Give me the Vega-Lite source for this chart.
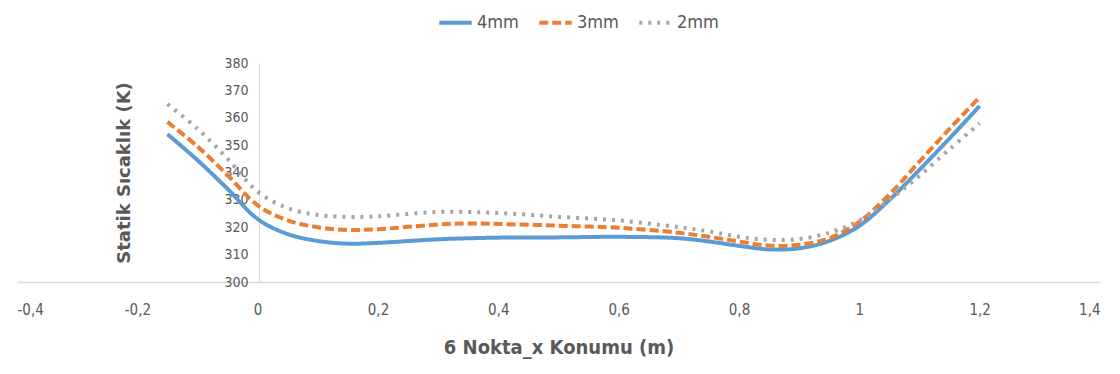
{
  "$schema": "https://vega.github.io/schema/vega-lite/v6.json",
  "width": 1083,
  "height": 219,
  "autosize": "none",
  "padding": {"left": 17, "top": 63, "right": 20, "bottom": 92},
  "background": "white",
  "config": {
    "view": {"stroke": null},
    "font": "Liberation Sans Narrow, DejaVu Sans Condensed, sans-serif"
  },
  "data": {
    "values": [
      {"x": -0.15, "T": 354, "s": "4mm"}, {"x": -0.1, "T": 344.5, "s": "4mm"}, {"x": -0.05, "T": 334, "s": "4mm"}, {"x": 0, "T": 323, "s": "4mm"},
      {"x": 0.05, "T": 317.5, "s": "4mm"}, {"x": 0.1, "T": 315, "s": "4mm"}, {"x": 0.15, "T": 314, "s": "4mm"}, {"x": 0.2, "T": 314.3, "s": "4mm"},
      {"x": 0.3, "T": 315.6, "s": "4mm"}, {"x": 0.4, "T": 316.2, "s": "4mm"}, {"x": 0.5, "T": 316.3, "s": "4mm"}, {"x": 0.6, "T": 316.5, "s": "4mm"},
      {"x": 0.7, "T": 316, "s": "4mm"}, {"x": 0.75, "T": 314.8, "s": "4mm"}, {"x": 0.8, "T": 313.2, "s": "4mm"}, {"x": 0.85, "T": 311.9, "s": "4mm"},
      {"x": 0.9, "T": 312.3, "s": "4mm"}, {"x": 0.95, "T": 315, "s": "4mm"}, {"x": 1.0, "T": 320.5, "s": "4mm"}, {"x": 1.05, "T": 330, "s": "4mm"},
      {"x": 1.1, "T": 341, "s": "4mm"}, {"x": 1.15, "T": 352.5, "s": "4mm"}, {"x": 1.2, "T": 364.3, "s": "4mm"},

      {"x": -0.15, "T": 358.5, "s": "3mm"}, {"x": -0.1, "T": 349.5, "s": "3mm"}, {"x": -0.05, "T": 339, "s": "3mm"}, {"x": 0, "T": 328, "s": "3mm"},
      {"x": 0.05, "T": 322.5, "s": "3mm"}, {"x": 0.1, "T": 320, "s": "3mm"}, {"x": 0.15, "T": 319, "s": "3mm"}, {"x": 0.2, "T": 319.3, "s": "3mm"},
      {"x": 0.3, "T": 321, "s": "3mm"}, {"x": 0.35, "T": 321.4, "s": "3mm"}, {"x": 0.4, "T": 321.2, "s": "3mm"}, {"x": 0.5, "T": 320.6, "s": "3mm"},
      {"x": 0.6, "T": 319.8, "s": "3mm"}, {"x": 0.7, "T": 318, "s": "3mm"}, {"x": 0.75, "T": 316.5, "s": "3mm"}, {"x": 0.8, "T": 314.8, "s": "3mm"},
      {"x": 0.85, "T": 313.3, "s": "3mm"}, {"x": 0.9, "T": 313.6, "s": "3mm"}, {"x": 0.95, "T": 316, "s": "3mm"}, {"x": 1.0, "T": 322, "s": "3mm"},
      {"x": 1.05, "T": 332, "s": "3mm"}, {"x": 1.1, "T": 344, "s": "3mm"}, {"x": 1.15, "T": 356, "s": "3mm"}, {"x": 1.2, "T": 367.5, "s": "3mm"},

      {"x": -0.15, "T": 365, "s": "2mm"}, {"x": -0.1, "T": 356, "s": "2mm"}, {"x": -0.05, "T": 345, "s": "2mm"}, {"x": 0, "T": 333, "s": "2mm"},
      {"x": 0.05, "T": 327, "s": "2mm"}, {"x": 0.1, "T": 324.5, "s": "2mm"}, {"x": 0.15, "T": 323.8, "s": "2mm"}, {"x": 0.2, "T": 324, "s": "2mm"},
      {"x": 0.3, "T": 325.6, "s": "2mm"}, {"x": 0.4, "T": 325.2, "s": "2mm"}, {"x": 0.5, "T": 323.8, "s": "2mm"}, {"x": 0.6, "T": 322.5, "s": "2mm"},
      {"x": 0.7, "T": 320, "s": "2mm"}, {"x": 0.75, "T": 318.5, "s": "2mm"}, {"x": 0.8, "T": 316.5, "s": "2mm"}, {"x": 0.85, "T": 315.4, "s": "2mm"},
      {"x": 0.9, "T": 315.7, "s": "2mm"}, {"x": 0.95, "T": 318, "s": "2mm"}, {"x": 1.0, "T": 322.5, "s": "2mm"}, {"x": 1.05, "T": 330, "s": "2mm"},
      {"x": 1.1, "T": 338.8, "s": "2mm"}, {"x": 1.15, "T": 348.5, "s": "2mm"}, {"x": 1.2, "T": 358, "s": "2mm"}
    ]
  },
  "mark": {"type": "line", "interpolate": "catmull-rom", "strokeWidth": 4, "strokeCap": "butt"},
  "encoding": {
    "x": {
      "field": "x", "type": "quantitative",
      "scale": {"domain": [-0.4, 1.4], "nice": false, "zero": false},
      "axis": {
        "values": [-0.4, -0.2, 0, 0.2, 0.4, 0.6, 0.8, 1, 1.2, 1.4],
        "labelExpr": "replace(replace(format(datum.value, '.1~f'), '.', ','), '\u2212', '-')",
        "grid": false, "ticks": false,
        "domainColor": "#D9D9D9", "domainWidth": 1.5,
        "labelFontSize": 15, "labelColor": "#595959", "labelPadding": 20,
        "title": "6 Nokta_x Konumu (m)", "titleFontSize": 20, "titleFontWeight": "bold",
        "titleColor": "#595959", "titlePadding": 20
      }
    },
    "y": {
      "field": "T", "type": "quantitative",
      "scale": {"domain": [300, 380], "nice": false, "zero": false},
      "axis": {
        "values": [300, 310, 320, 330, 340, 350, 360, 370, 380],
        "offset": -242,
        "grid": false, "ticks": false,
        "domainColor": "#D9D9D9", "domainWidth": 1,
        "labelFontSize": 14, "labelColor": "#595959", "labelPadding": 11,
        "title": "Statik Sıcaklık (K)", "titleFont": "DejaVu Sans, sans-serif",
        "titleFontSize": 18, "titleFontWeight": "bold", "titleColor": "#595959", "titlePadding": 90
      }
    },
    "color": {
      "field": "s", "type": "nominal",
      "scale": {"domain": ["4mm", "3mm", "2mm"], "range": ["#5B9BD5", "#ED7D31", "#A5A5A5"]},
      "legend": {
        "title": null, "orient": "none", "direction": "horizontal",
        "legendX": 420, "legendY": -59,
        "symbolType": "stroke", "symbolSize": 1050, "symbolStrokeWidth": 4,
        "labelFontSize": 18, "labelColor": "#595959", "labelOffset": 3, "columnPadding": 12
      }
    },
    "strokeDash": {
      "field": "s", "type": "nominal",
      "scale": {"domain": ["4mm", "3mm", "2mm"], "range": [[1, 0], [9, 4], [3, 6]]},
      "legend": {
        "title": null, "orient": "none", "direction": "horizontal",
        "legendX": 420, "legendY": -59,
        "symbolType": "stroke", "symbolSize": 1050, "symbolStrokeWidth": 4,
        "labelFontSize": 18, "labelColor": "#595959", "labelOffset": 3, "columnPadding": 12
      }
    }
  }
}
